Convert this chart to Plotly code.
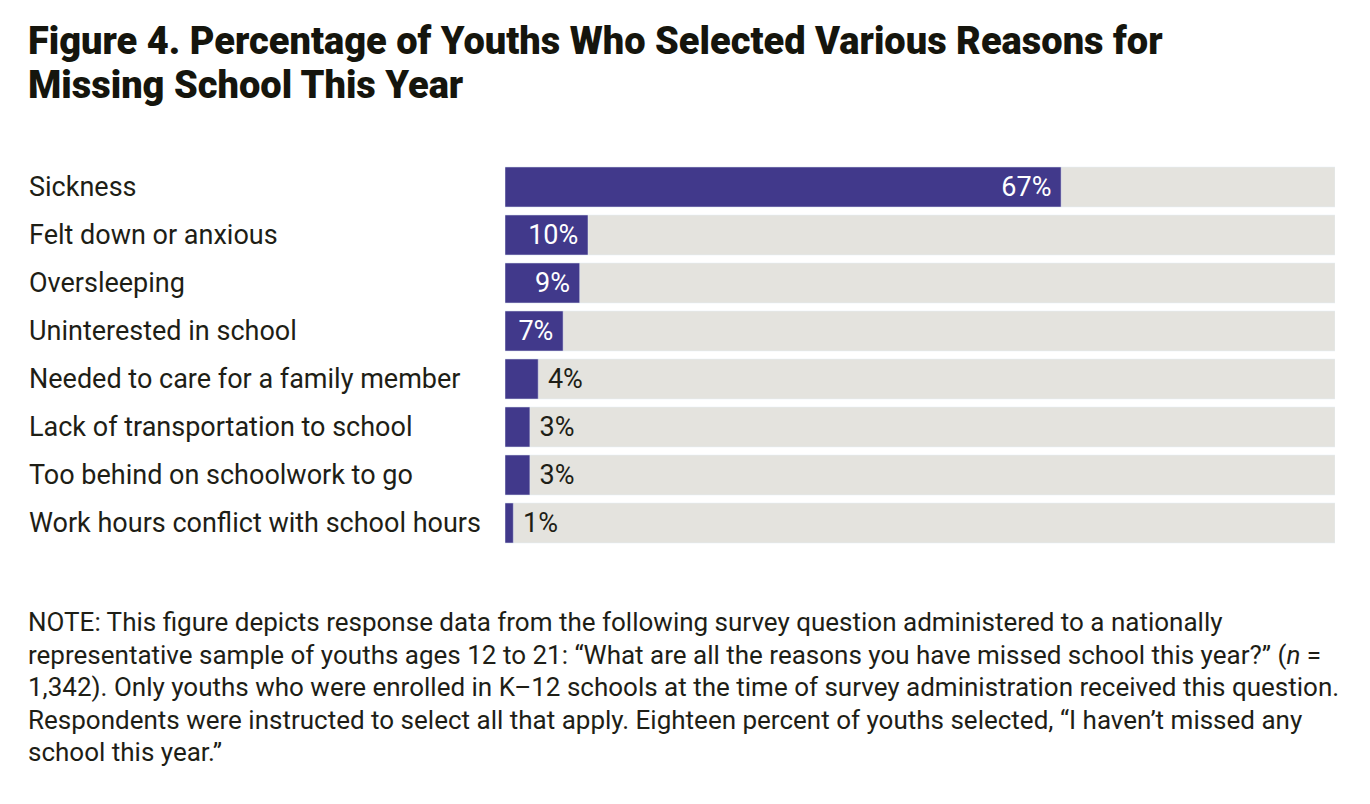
import plotly.graph_objects as go

title_lines = ["Figure 4. Percentage of Youths Who Selected Various Reasons for",
               "Missing School This Year"]
categories = ["Sickness", "Felt down or anxious", "Oversleeping", "Uninterested in school",
              "Needed to care for a family member", "Lack of transportation to school",
              "Too behind on schoolwork to go", "Work hours conflict with school hours"]
values = [67, 10, 9, 7, 4, 3, 3, 1]
full_scale = [100] * len(categories)
note_lines = [
    "NOTE: This figure depicts response data from the following survey question administered to a nationally",
    "representative sample of youths ages 12 to 21: \u201cWhat are all the reasons you have missed school this year?\u201d (<i>n</i> =",
    "1,342). Only youths who were enrolled in K\u201312 schools at the time of survey administration received this question.",
    "Respondents were instructed to select all that apply. Eighteen percent of youths selected, \u201cI haven\u2019t missed any",
    "school this year.\u201d",
]

PURPLE = "#41398B"
GRAY = "#E4E3DE"
TEXT = "#1E1E16"
FONT = "Roboto"

OFF = 8  # page body margin
W, H = 1370, 804
# desired screen-pixel plot box
X0, X1, Y0, Y1 = 505, 1335, 163, 547
L = X0 - OFF
R = W - (X1 - OFF)
T = Y0 - OFF
B = H - (Y1 - OFF)
pw = X1 - X0
ph = Y1 - Y0

def px_x(x):
    return (x - X0) / pw

def px_y(y):
    return (Y1 - y) / ph

inside = [v >= 7 for v in values]
texts = [(f"{v}%\u00a0" if ins else f"\u00a0{v}%") for v, ins in zip(values, inside)]
positions = ["inside" if ins else "outside" for ins in inside]

fig = go.Figure()
fig.add_trace(go.Bar(y=categories, x=full_scale, orientation="h", marker_color=GRAY,
                     hoverinfo="skip", showlegend=False))
fig.add_trace(go.Bar(y=categories, x=values, orientation="h", marker_color=PURPLE,
                     text=texts, textposition=positions, insidetextanchor="end",
                     insidetextfont=dict(family=FONT, size=27, color="white"),
                     outsidetextfont=dict(family=FONT, size=27, color=TEXT),
                     cliponaxis=False, constraintext="none", showlegend=False))

ann = []
for c in categories:
    ann.append(dict(x=px_x(27), y=c, xref="paper", yref="y", text=c, showarrow=False,
                    xanchor="left", yanchor="middle",
                    font=dict(family=FONT, size=27, color=TEXT)))
for i, t in enumerate(title_lines):
    ann.append(dict(x=px_x(26), y=px_y(41 + 44 * i), xref="paper", yref="paper", text=t,
                    showarrow=False, xanchor="left", yanchor="middle",
                    font=dict(family=FONT, size=38, color="#15150d", weight=900)))
for i, t in enumerate(note_lines):
    ann.append(dict(x=px_x(26), y=px_y(622 + 32.5 * i), xref="paper", yref="paper", text=t,
                    showarrow=False, xanchor="left", yanchor="middle",
                    font=dict(family=FONT, size=26, color=TEXT)))

fig.update_layout(
    width=W, height=H, margin=dict(l=L, r=R, t=T, b=B),
    barmode="overlay", bargap=8 / 48,
    paper_bgcolor="white", plot_bgcolor="white",
    xaxis=dict(range=[0, 100], visible=False, fixedrange=True),
    yaxis=dict(autorange="reversed", showticklabels=False, showgrid=False, zeroline=False,
               fixedrange=True),
    annotations=ann,
)
fig.write_html("out.html")
